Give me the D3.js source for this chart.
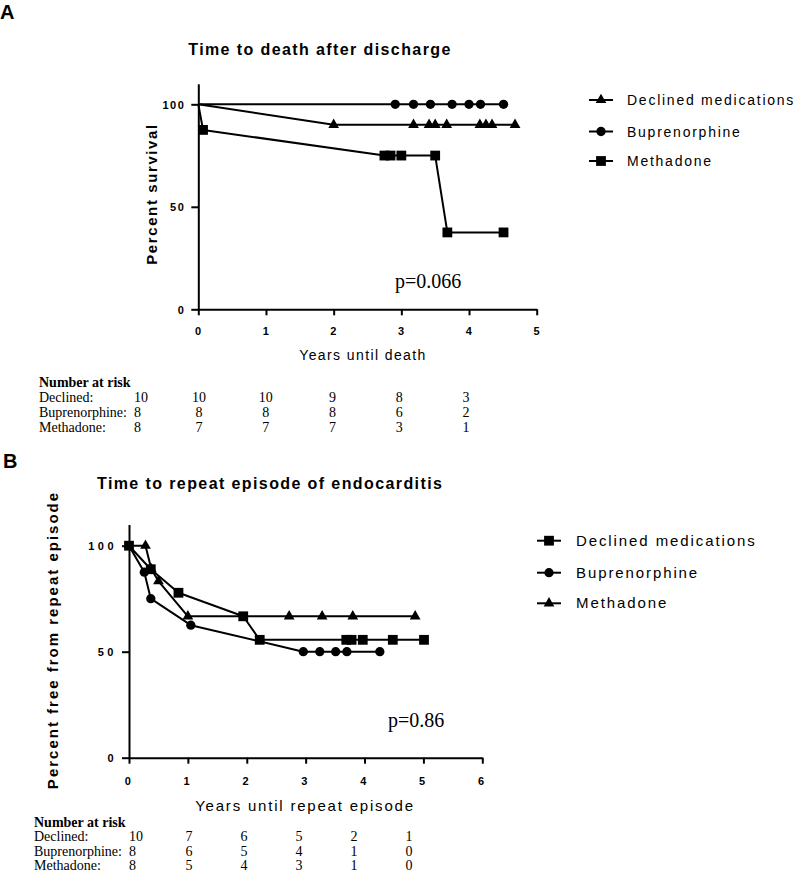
<!DOCTYPE html>
<html><head><meta charset="utf-8">
<script src="https://cdn.jsdelivr.net/npm/d3@7"></script>
<style>body{margin:0;background:#fff} svg{display:block;background:#fff}</style>
</head><body><svg id="c" width="800" height="873"></svg>
<script>
// ---------- DATA ----------
const groupNames = ["Declined medications", "Buprenorphine", "Methadone"];
const riskRowLabels = ["Declined:", "Buprenorphine:", "Methadone:"];
const yTicks = [0, 50, 100];

// Panel A: Time to death after discharge
const titleA = "Time to death after discharge";
const xLabelA = "Years until death";
const yLabelA = "Percent survival";
const xTicksA = [0, 1, 2, 3, 4, 5];
const aDeclinedT = [0, 2.0, 3.18, 3.41, 3.5, 3.67, 4.16, 4.25, 4.34, 4.68];
const aDeclinedS = [100, 90, 90, 90, 90, 90, 90, 90, 90, 90];
const aBupT = [0, 2.91, 3.18, 3.43, 3.75, 4.0, 4.17, 4.51];
const aBupS = [100, 100, 100, 100, 100, 100, 100, 100];
const aMethT = [0, 0.07, 2.75, 2.84, 3.0, 3.5, 3.68, 4.51];
const aMethS = [100, 87.5, 75, 75, 75, 75, 37.5, 37.5];
const pValueA = "p=0.066";
const riskA = [[10, 10, 10, 9, 8, 3], [8, 8, 8, 8, 6, 2], [8, 7, 7, 7, 3, 1]];

// Panel B: Time to repeat episode of endocarditis
const titleB = "Time to repeat episode of endocarditis";
const xLabelB = "Years until repeat episode";
const yLabelB = "Percent free from repeat episode";
const xTicksB = [0, 1, 2, 3, 4, 5, 6];
const bDeclinedT = [0, 0.37, 0.84, 1.94, 2.22, 3.69, 3.78, 3.97, 4.48, 5.01];
const bDeclinedS = [100, 88.9, 77.8, 66.7, 55.6, 55.6, 55.6, 55.6, 55.6, 55.6];
const bBupT = [0, 0.26, 0.37, 1.05, 2.96, 3.24, 3.51, 3.7, 4.26];
const bBupS = [100, 87.5, 75, 62.5, 50, 50, 50, 50, 50];
const bMethT = [0, 0.28, 0.38, 0.5, 1.0, 2.72, 3.28, 3.8, 4.86];
const bMethS = [100, 100, 88.9, 83.3, 66.7, 66.7, 66.7, 66.7, 66.7];
const pValueB = "p=0.86";
const riskB = [[10, 7, 6, 5, 2, 1], [8, 6, 5, 4, 1, 0], [8, 5, 4, 3, 1, 0]];

// ---------- DRAWING ----------
const SANS = "'Liberation Sans', Arial, sans-serif";
const SERIF = "'Liberation Serif', 'Times New Roman', serif";
const svg = d3.select("#c");
svg.append("rect").attr("width", 800).attr("height", 873).attr("fill", "#fff");

function txt(g, s, o) {
  const t = g.append("text").text(s)
    .attr("x", o.x || 0).attr("y", o.y || 0)
    .attr("font-family", o.family || SANS)
    .attr("font-size", o.size || 14)
    .attr("font-weight", o.weight || "normal")
    .attr("letter-spacing", o.ls || 0)
    .attr("text-anchor", o.anchor || "start")
    .attr("fill", "#000");
  if (o.transform) t.attr("transform", o.transform);
  return t;
}

const symMap = { triangle: d3.symbolTriangle, circle: d3.symbolCircle, square: d3.symbolSquare };
const symSize = { triangle: 50, circle: 68, square: 96 };
function marker(g, type, x, y) {
  g.append("path")
    .attr("d", d3.symbol(symMap[type], symSize[type])())
    .attr("transform", `translate(${x},${y})`)
    .attr("fill", "#000");
}

function panel(cfg) {
  const g = svg.append("g");
  const x = d3.scaleLinear().domain(cfg.xDomain).range(cfg.xRange);
  const y = d3.scaleLinear().domain([0, 110]).range(cfg.yRange);
  const x0 = cfg.xRange[0], y0 = y(0);

  // axes
  const xa = g.append("g").attr("transform", `translate(0,${y0})`)
    .call(d3.axisBottom(x).tickValues(cfg.xTicks).tickSize(6).tickSizeOuter(0).tickFormat(d3.format("d")));
  const ya = g.append("g").attr("transform", `translate(${x0},0)`)
    .call(d3.axisLeft(y).tickValues(yTicks).tickSize(7).tickSizeOuter(0).tickFormat(d3.format("d")));
  [xa, ya].forEach(a => {
    a.select(".domain").attr("stroke", "#000").attr("stroke-width", 2);
    a.selectAll(".tick line").attr("stroke", "#000").attr("stroke-width", 2);
    a.selectAll("text").attr("font-family", SANS).attr("font-weight", "bold")
      .attr("font-size", cfg.tickSize).attr("letter-spacing", cfg.tickLs).attr("fill", "#000");
  });
  xa.selectAll("text").attr("dy", null).attr("y", cfg.xTickBase);
  ya.selectAll("text").attr("dy", "0.36em").attr("x", -cfg.yTickGap);

  // curves
  cfg.series.forEach(s => {
    const pts = s.t.map((t, i) => [t, s.s[i]]);
    g.append("path").datum(pts)
      .attr("d", d3.line().x(d => x(d[0])).y(d => y(d[1])))
      .attr("fill", "none").attr("stroke", "#000").attr("stroke-width", 2)
      .attr("stroke-linejoin", "round");
    pts.forEach((p, i) => { if (i >= s.markFrom) marker(g, s.sym, x(p[0]), y(p[1])); });
  });

  // titles / labels
  txt(g, cfg.letter, { x: cfg.letterPos[0], y: cfg.letterPos[1], size: 20, weight: "bold" });
  txt(g, cfg.title, { x: cfg.titlePos[0], y: cfg.titlePos[1], size: 16, weight: "bold", ls: 1.4, anchor: cfg.titleAnchor });
  txt(g, cfg.yLabel, { size: 15, weight: "bold", ls: cfg.yLabelLs, anchor: "middle",
    transform: `translate(${cfg.yLabelPos[0]},${cfg.yLabelPos[1]}) rotate(-90)` });
  txt(g, cfg.xLabel, { x: cfg.xLabelPos[0], y: cfg.xLabelPos[1], size: cfg.xLabelSize, ls: cfg.xLabelLs, anchor: "middle" });
  txt(g, cfg.p, { x: cfg.pPos[0], y: cfg.pPos[1], size: 20, family: SERIF });

  // legend
  cfg.legendY.forEach((ly, i) => {
    g.append("line").attr("x1", cfg.legendX).attr("x2", cfg.legendX + 24)
      .attr("y1", ly).attr("y2", ly).attr("stroke", "#000").attr("stroke-width", 2);
    marker(g, cfg.legendSyms[i], cfg.legendX + 12, ly);
    txt(g, groupNames[i], { x: cfg.legendX + cfg.legendGap, y: ly + 5, size: cfg.legendSize, ls: cfg.legendLs });
  });

  // number at risk table
  const rt = cfg.risk;
  txt(g, "Number at risk", { x: rt.x, y: rt.y0, size: 14, weight: "bold", family: SERIF });
  const col = d3.scaleLinear().domain([0, 4]).range(rt.colRange);
  riskRowLabels.forEach((lab, r) => {
    const yy = rt.y0 + (r + 1) * rt.dy;
    txt(g, lab, { x: rt.x, y: yy, size: rt.size, family: SERIF });
    cfg.riskData[r].forEach((v, c) => {
      if (c === 0) txt(g, String(v), { x: rt.col0, y: yy, size: rt.size, family: SERIF });
      else txt(g, String(v), { x: col(c - 1), y: yy, size: rt.size, family: SERIF, anchor: "middle" });
    });
  });
}

panel({
  letter: "A", letterPos: [0, 19],
  title: titleA, titlePos: [320, 55], titleAnchor: "middle",
  xDomain: [0, 5], xRange: [198.3, 536.7], yRange: [309.3, 83.8], xTicks: xTicksA,
  tickSize: 11, tickLs: 1.5, xTickBase: 26, yTickGap: 13,
  series: [
    { t: aDeclinedT, s: aDeclinedS, sym: "triangle", markFrom: 1 },
    { t: aBupT, s: aBupS, sym: "circle", markFrom: 1 },
    { t: aMethT, s: aMethS, sym: "square", markFrom: 1 }
  ],
  yLabel: yLabelA, yLabelPos: [157, 194], yLabelLs: 1.6,
  xLabel: xLabelA, xLabelPos: [363, 360], xLabelSize: 14, xLabelLs: 1.4,
  p: pValueA, pPos: [395, 288],
  legendX: 589, legendGap: 38, legendSize: 14, legendLs: 1.75,
  legendY: [100, 131.5, 161], legendSyms: ["triangle", "circle", "square"],
  risk: { x: 39, y0: 387, dy: 15, size: 14, col0: 134, colRange: [199, 466] },
  riskData: riskA
});

panel({
  letter: "B", letterPos: [3, 468],
  title: titleB, titlePos: [97, 489], titleAnchor: "start",
  xDomain: [0, 6], xRange: [129, 482.3], yRange: [757.7, 524.5], xTicks: xTicksB,
  tickSize: 11, tickLs: 3.5, xTickBase: 27, yTickGap: 12,
  series: [
    { t: bMethT, s: bMethS, sym: "triangle", markFrom: 1 },
    { t: bBupT, s: bBupS, sym: "circle", markFrom: 1 },
    { t: bDeclinedT, s: bDeclinedS, sym: "square", markFrom: 0 }
  ],
  yLabel: yLabelB, yLabelPos: [58, 640], yLabelLs: 2,
  xLabel: xLabelB, xLabelPos: [305, 811], xLabelSize: 15, xLabelLs: 1.8,
  p: pValueB, pPos: [388, 727],
  legendX: 537, legendGap: 39, legendSize: 15, legendLs: 1.9,
  legendY: [540.7, 572.7, 603.3], legendSyms: ["square", "circle", "triangle"],
  risk: { x: 34, y0: 826.7, dy: 14.4, size: 14, col0: 129, colRange: [189, 409] },
  riskData: riskB
});
</script></body></html>
